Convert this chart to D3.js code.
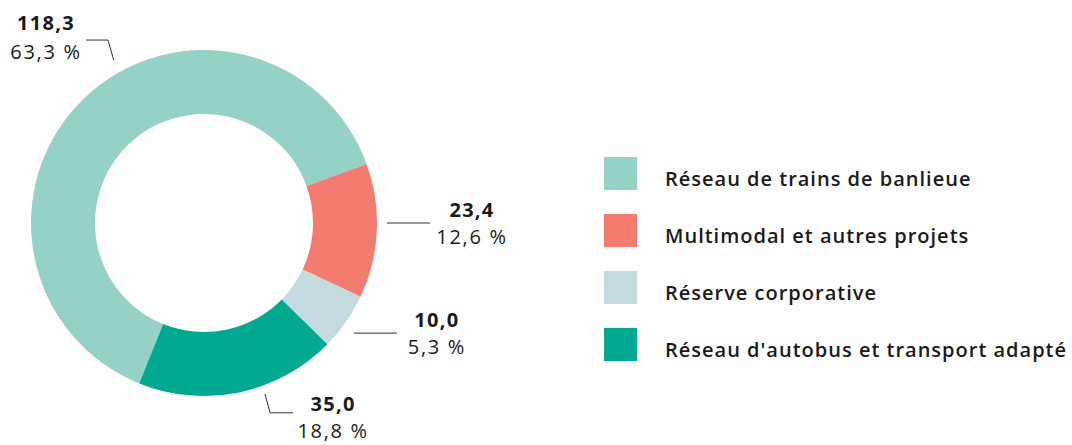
<!DOCTYPE html>
<html>
<head>
<meta charset="utf-8">
<script src="https://cdn.jsdelivr.net/npm/d3@7"></script>
<style>
  body { margin: 0; background: #fff; }
  text { font-family: "Open Sans", sans-serif; fill: #1a1a1a; }
</style>
</head>
<body>
<div class="container"></div>
<script>
// values in M$, legend order
const categories = [
    'Réseau de trains de banlieue',
    'Multimodal et autres projets',
    'Réserve corporative',
    "Réseau d'autobus et transport adapté",
];
const values = [118.3, 23.4, 10.0, 35.0];
const valueLabels = ['118,3', '23,4', '10,0', '35,0'];
const percentLabels = ['63,3 %', '12,6 %', '5,3 %', '18,8 %'];
const colors = ['#95d1c5', '#f47b70', '#c3dadf', '#00a98f'];

const width = 1072;
const height = 445;
const cx = 204;
const cy = 223;
const outerR = 173;
const innerR = 109;

// leader line layout: start point + elbow as (angle deg, radius), horizontal run, text offsets
const leaders = [
    { a0: 331, r0: 186, a1: 332.3, r1: 206.6, run: -22, tx: -40, dy1: -10, dy2: 19 },
    { a0: 90, r0: 183, a1: 90, r1: 183, run: 43, tx: 42, dy1: -6, dy2: 21 },
    { a0: 126.3, r0: 186, a1: 126.3, r1: 186, run: 43, tx: 40, dy1: -6, dy2: 21 },
    { a0: 160.4, r0: 181.5, a1: 160.8, r1: 201, run: 23, tx: 40, dy1: -2, dy2: 25 },
];

const rad = d => d * Math.PI / 180;

function draw() {
    const svg = d3.select('.container')
        .append('svg')
        .attr('width', width)
        .attr('height', height);

    const pie = d3.pie()
        .sort(null)
        .startAngle(rad(-158))
        .endAngle(rad(202));

    const arc = d3.arc().innerRadius(innerR).outerRadius(outerR);

    const g = svg.append('g').attr('transform', `translate(${cx},${cy})`);

    g.selectAll('.slice')
        .data(pie(values))
        .enter()
        .append('path')
        .attr('class', 'slice')
        .attr('d', arc)
        .attr('fill', (d, i) => colors[i]);

    // labels: value + percent in one text block
    leaders.forEach((l, i) => {
        const p0 = d3.pointRadial(rad(l.a0), l.r0);
        const p1 = d3.pointRadial(rad(l.a1), l.r1);
        const p2 = [p1[0] + l.run, p1[1]];
        g.append('path')
            .attr('d', d3.line()([p0, p1, p2]))
            .attr('fill', 'none')
            .attr('stroke', '#333')
            .attr('stroke-width', 1);
        const x = p2[0] + l.tx;
        const t = g.append('text')
            .attr('text-anchor', 'middle')
            .attr('font-size', 20);
        t.append('tspan')
            .attr('x', x)
            .attr('y', p2[1] + l.dy1)
            .attr('font-weight', 700)
            .attr('letter-spacing', 1.3)
            .text(valueLabels[i]);
        t.append('tspan')
            .attr('x', x)
            .attr('y', p2[1] + l.dy2)
            .attr('font-weight', 400)
            .attr('letter-spacing', 1.7)
            .text(percentLabels[i]);
    });

    // legend
    const ly = d3.scaleBand().domain(categories).range([157, 385]).paddingInner(0);
    const legend = svg.selectAll('.legend')
        .data(categories)
        .enter()
        .append('g')
        .attr('class', 'legend')
        .attr('transform', d => `translate(604,${ly(d)})`);

    legend.append('rect')
        .attr('width', 33)
        .attr('height', 33)
        .attr('fill', (d, i) => colors[i]);

    legend.append('text')
        .attr('x', 61)
        .attr('y', 29)
        .attr('font-size', 20)
        .attr('font-weight', 600)
        .attr('letter-spacing', 1)
        .text(d => d);
}

draw();
</script>
</body>
</html>
